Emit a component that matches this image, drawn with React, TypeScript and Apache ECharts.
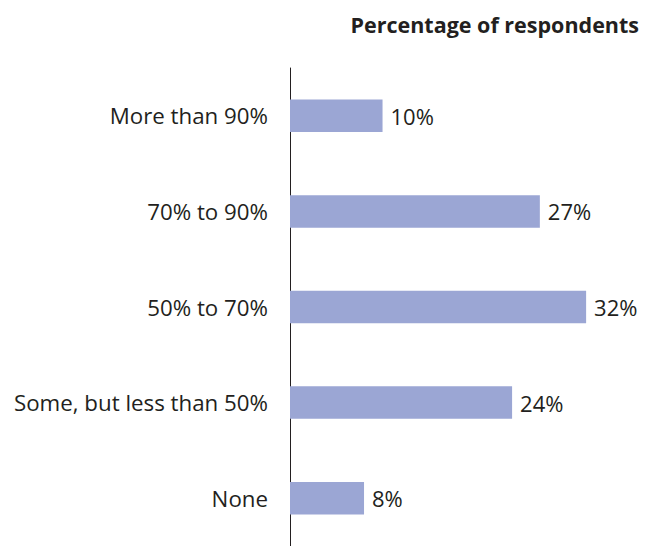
import React, { useEffect, useRef } from "react";
import * as echarts from "echarts";

const categories = [
  "More than 90%",
  "70% to 90%",
  "50% to 70%",
  "Some, but less than 50%",
  "None",
];
const values = [10, 27, 32, 24, 8];
const titleText = "Percentage of respondents";

const FONT = "'Open Sans', 'Noto Sans', sans-serif";
const TEXT = "#231f20";

export default function App() {
  const ref = useRef<HTMLDivElement>(null);
  useEffect(() => {
    if (!ref.current) return;
    const chart = echarts.init(ref.current, null, { renderer: "svg" });
    chart.setOption({
      animation: false,
      backgroundColor: "#ffffff",
      title: {
        text: titleText,
        right: 18,
        top: 8,
        textStyle: {
          fontFamily: FONT,
          fontWeight: "bold",
          fontSize: 21.5,
          color: TEXT,
        },
      },
      grid: { left: 290, top: 68, width: 372, height: 484 },
      xAxis: {
        type: "value",
        min: 0,
        max: 40.2,
        show: false,
      },
      yAxis: {
        type: "category",
        data: categories,
        inverse: true,
        axisLine: { show: true, lineStyle: { color: TEXT, width: 1 } },
        axisTick: { show: false },
        axisLabel: {
          margin: 22,
          fontFamily: FONT,
          fontSize: 22.3,
          color: TEXT,
        },
      },
      series: [
        {
          type: "bar",
          data: values,
          barWidth: 32.5,
          itemStyle: { color: "#9ba6d4" },
          label: {
            show: true,
            position: "right",
            distance: 8,
            formatter: "{c}%",
            fontFamily: FONT,
            fontSize: 22,
            color: TEXT,
          },
        },
      ],
    });
    return () => chart.dispose();
  }, []);
  return (
    <div
      ref={ref}
      style={{ position: "fixed", left: 0, top: 0, width: 662, height: 546 }}
    />
  );
}
